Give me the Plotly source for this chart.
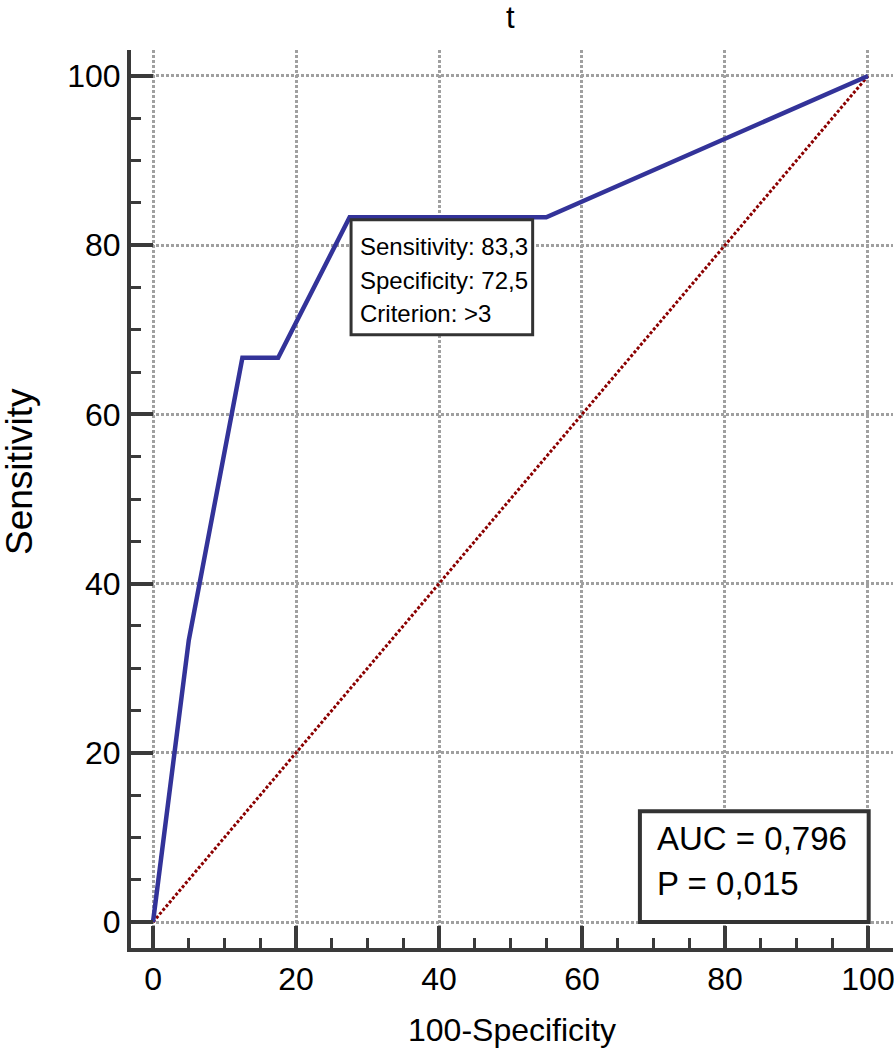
import plotly.graph_objects as go

# ROC curve data (100-Specificity, Sensitivity)
roc_x = [0, 5, 12.5, 17.5, 27.5, 55, 100]
roc_y = [0, 33.3, 66.7, 66.7, 83.3, 83.3, 100]
diag_x = [0, 100]
diag_y = [0, 100]

title_text = "t"
x_title = "100-Specificity"
y_title = "Sensitivity"
tick_vals = [0, 20, 40, 60, 80, 100]
tick_text = ["0", "20", "40", "60", "80", "100"]
crit_lines = ["Sensitivity: 83,3", "Specificity: 72,5", "Criterion: >3"]
auc_lines = ["AUC = 0,796", "P = 0,015"]

FONT = "Liberation Sans, Arial, sans-serif"
AX = "#3a3a3a"

fig = go.Figure()
fig.add_trace(go.Scatter(x=diag_x, y=diag_y, mode="lines",
                         line=dict(color="#8b0000", width=3, dash="3px,2px"),
                         hoverinfo="skip", showlegend=False))
fig.add_trace(go.Scatter(x=roc_x, y=roc_y, mode="lines",
                         line=dict(color="#333399", width=4.5),
                         showlegend=False))

# criterion box
fig.add_shape(type="rect", xref="x", yref="y", x0=27.7, x1=53.1, y0=69.4, y1=83.0,
              line=dict(color="#333333", width=3), fillcolor="white", layer="above")
for i, t in enumerate(crit_lines):
    fig.add_annotation(x=28.67, y=(922 - (247 + 33.5 * i)) / 8.46, xref="x", yref="y",
                       text=t, showarrow=False, xanchor="left", yanchor="middle",
                       font=dict(family=FONT, size=24, color="black"))

# AUC box
fig.add_shape(type="rect", xref="x", yref="y", x0=68.1, x1=100.1, y0=0, y1=13.1,
              line=dict(color="#333333", width=4), fillcolor="white", layer="above")
for i, t in enumerate(auc_lines):
    fig.add_annotation(x=70.2, y=(922 - (838 + 45 * i)) / 8.46, xref="x", yref="y",
                       text=t, showarrow=False, xanchor="left", yanchor="middle",
                       font=dict(family=FONT, size=33, color="black"))

# titles as paper-positioned texts
fig.add_annotation(x=(510 - 131) / 762, y=(948 - 18) / 898, xref="paper", yref="paper",
                   text=title_text, showarrow=False, xanchor="center", yanchor="middle",
                   font=dict(family=FONT, size=31, color="black"))
fig.add_annotation(x=(512 - 131) / 762, y=(948 - 1030) / 898, xref="paper", yref="paper",
                   text=x_title, showarrow=False, xanchor="center", yanchor="middle",
                   font=dict(family=FONT, size=32, color="black"))
fig.add_annotation(x=(19 - 131) / 762, y=(948 - 472) / 898, xref="paper", yref="paper",
                   text=y_title, showarrow=False, xanchor="center", yanchor="middle",
                   textangle=-90, font=dict(family=FONT, size=37, color="black"))

axis_common = dict(
    showline=True, linewidth=4, linecolor=AX,
    ticks="inside", ticklen=22, tickwidth=4, tickcolor=AX,
    tickvals=tick_vals, ticktext=tick_text,
    tickfont=dict(family=FONT, size=32, color="black"),
    ticklabeloverflow="allow",
    showgrid=True, gridcolor="#a0a0a0", gridwidth=2.5, griddash="3px,2px",
    zeroline=False, automargin=False,
    minor=dict(ticks="inside", ticklen=10, tickwidth=2.5, tickcolor=AX, dtick=5,
               tick0=0, showgrid=False),
)

fig.update_layout(
    width=894, height=1053,
    margin=dict(l=131, r=1, t=50, b=105, autoexpand=False),
    paper_bgcolor="white", plot_bgcolor="white",
    xaxis=dict(range=[-3.08, 103.5], **axis_common),
    yaxis=dict(range=[-3.07, 103.07], **axis_common),
)

fig.write_html("out.html", config={"displayModeBar": False},
               post_script="document.body.style.margin='0px';document.body.style.overflow='hidden';")
